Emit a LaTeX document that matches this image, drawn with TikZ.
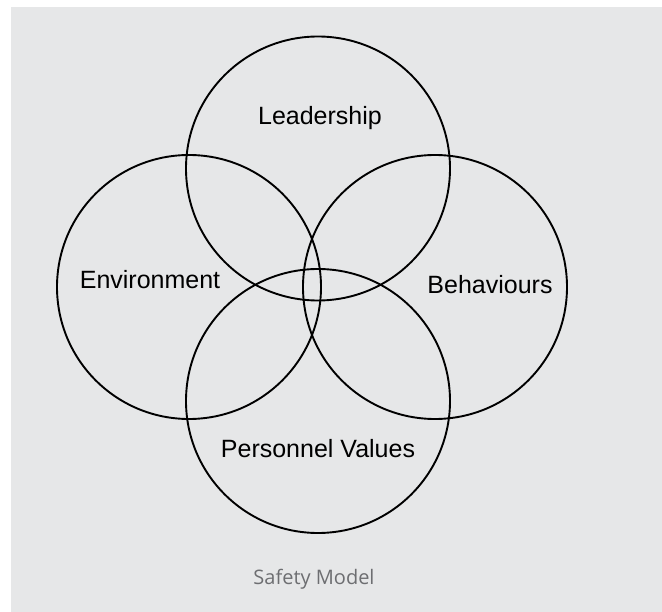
\documentclass[tikz,border=0pt]{standalone}
\usepackage{fontspec}
\setmainfont{Liberation Sans}
\newfontfamily\capfont{Open Sans}
\definecolor{bggray}{HTML}{E6E7E8}
\definecolor{capgray}{HTML}{6D6E71}
\begin{document}
\begin{tikzpicture}[x=1pt,y=-1pt,
  ring/.style={circle,draw=black,line width=1.9pt,minimum size=264pt,inner sep=0pt},
  lbl/.style={anchor=base,font=\fontsize{25}{30}\selectfont,text=black,inner sep=0pt},
  captext/.style={anchor=base,font=\capfont\fontsize{20}{24}\selectfont,text=capgray,inner sep=0pt}]
\useasboundingbox (0,0) rectangle (662,612);
\fill[white] (0,0) rectangle (662,612);
\fill[bggray] (11,7) rectangle (662,612);
\node[ring] (lead) at (318,168.5) {};
\node[ring] (env) at (189,287) {};
\node[ring] (beh) at (435,287) {};
\node[ring] (pers) at (318,401) {};
\node[lbl] (tlead) at (320,125) {Leadership};
\node[lbl] (tenv) at (150,289) {Environment};
\node[lbl] (tbeh) at (490,294) {Behaviours};
\node[lbl] (tpers) at (318,458) {Personnel Values};
\node[captext] (tcap) at (314,584) {Safety Model};
\end{tikzpicture}
\end{document}
